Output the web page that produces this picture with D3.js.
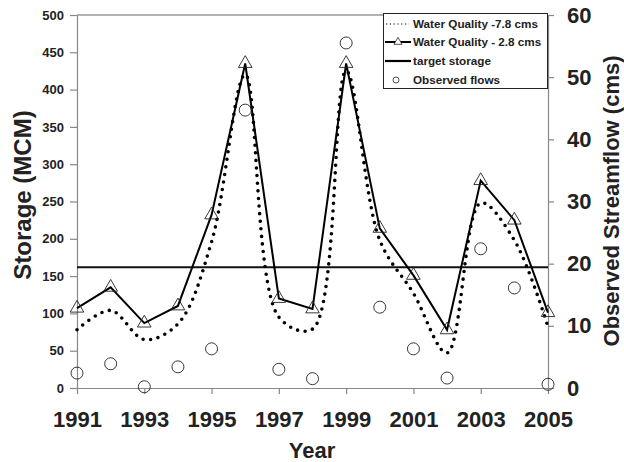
<!DOCTYPE html>
<html>
<head>
<meta charset="utf-8">
<script src="https://cdn.jsdelivr.net/npm/d3@7"></script>
<style>
  body { margin: 0; background: #fff; }
  text { font-family: "Liberation Sans", Arial, sans-serif; font-weight: bold; fill: #222; }
</style>
</head>
<body>
<div id="chart"></div>
<script>
// values
var years = [1991, 1992, 1993, 1994, 1995, 1996, 1997, 1998, 1999, 2000, 2001, 2002, 2003, 2004, 2005];
var wq78 = [78, 104, 65, 86, 196, 420, 95, 79, 425, 198, 127, 47, 248, 198, 82];
var wq28 = [107, 135, 87, 110, 232, 435, 120, 106, 435, 214, 151, 78, 278, 225, 101];
var target = [162, 162];
var observed = [2.4, 3.9, 0.2, 3.4, 6.3, 44.7, 3.0, 1.5, 55.5, 13.0, 6.3, 1.6, 22.4, 16.1, 0.6];
var yearTicks = [1991, 1993, 1995, 1997, 1999, 2001, 2003, 2005];
var storageTicks = [0, 50, 100, 150, 200, 250, 300, 350, 400, 450, 500];
var flowTicks = [0, 10, 20, 30, 40, 50, 60];
var legendLabels = ["Water Quality -7.8 cms", "Water Quality - 2.8 cms", "target storage", "Observed flows"];

var W = 624, H = 462;
var plot = {left: 77, right: 548, top: 15, bottom: 388};

var svg = d3.select("#chart").append("svg")
    .attr("width", W)
    .attr("height", H);

var x = d3.scaleLinear().domain([1991, 2005]).range([plot.left, plot.right]);
var y = d3.scaleLinear().domain([0, 500]).range([plot.bottom, plot.top]);
var y2 = d3.scaleLinear().domain([0, 60]).range([plot.bottom, plot.top]);

// frame top
svg.append("line")
    .attr("x1", plot.left).attr("x2", plot.right)
    .attr("y1", plot.top).attr("y2", plot.top)
    .attr("stroke", "#999").attr("stroke-width", 1.5);

// axes
var gx = svg.append("g")
    .attr("transform", "translate(0," + plot.bottom + ")")
    .call(d3.axisBottom(x).tickValues(yearTicks).tickFormat(d3.format("d")).tickSize(6).tickSizeOuter(0).tickPadding(17));
gx.selectAll("text").style("font-size", "22px");

var gy = svg.append("g")
    .attr("transform", "translate(" + plot.left + ",0)")
    .call(d3.axisLeft(y).tickValues(storageTicks).tickSize(7).tickSizeOuter(0).tickPadding(6));
gy.selectAll("text").style("font-size", "13px");

var gy2 = svg.append("g")
    .attr("transform", "translate(" + plot.right + ",0)")
    .call(d3.axisRight(y2).tickValues(flowTicks).tickSize(6).tickSizeOuter(0).tickPadding(13));
gy2.selectAll("text").style("font-size", "22px");

svg.selectAll(".domain, .tick line").attr("stroke", "#888").attr("stroke-width", 1.2);

// titles
svg.append("text")
    .attr("transform", "translate(31,195) rotate(-90)")
    .attr("text-anchor", "middle")
    .style("font-size", "24px")
    .text("Storage (MCM)");

svg.append("text")
    .attr("transform", "translate(619,201) rotate(-90)")
    .attr("text-anchor", "middle")
    .style("font-size", "22px")
    .text("Observed Streamflow (cms)");

svg.append("text")
    .attr("x", 312).attr("y", 458)
    .attr("text-anchor", "middle")
    .style("font-size", "22px")
    .text("Year");

// target storage
svg.append("line")
    .attr("x1", plot.left).attr("x2", plot.right)
    .attr("y1", y(target[0])).attr("y2", y(target[1]))
    .attr("stroke", "#111").attr("stroke-width", 2);

// water quality 7.8 (smoothed dotted)
var smooth = d3.line()
    .x(function(d, i) { return x(years[i]); })
    .y(function(d) { return y(d); })
    .curve(d3.curveCatmullRom);

svg.append("path")
    .datum(wq78)
    .attr("d", smooth)
    .attr("fill", "none")
    .attr("stroke", "#000")
    .attr("stroke-width", 3.6)
    .attr("stroke-linecap", "round")
    .attr("stroke-dasharray", "0 7.6");

// water quality 2.8
var straight = d3.line()
    .x(function(d, i) { return x(years[i]); })
    .y(function(d) { return y(d); });

svg.append("path")
    .datum(wq28)
    .attr("d", straight)
    .attr("fill", "none")
    .attr("stroke", "#000")
    .attr("stroke-width", 2);

var tri = d3.symbol().type(d3.symbolTriangle).size(80);
svg.selectAll(".tri")
    .data(wq28)
    .enter().append("path")
    .attr("class", "tri")
    .attr("d", tri)
    .attr("transform", function(d, i) { return "translate(" + x(years[i]) + "," + y(d) + ")"; })
    .attr("fill", "none")
    .attr("stroke", "#222")
    .attr("stroke-width", 0.9);

// observed flows
svg.selectAll(".obs")
    .data(observed)
    .enter().append("circle")
    .attr("class", "obs")
    .attr("cx", function(d, i) { return x(years[i]); })
    .attr("cy", function(d) { return y2(d); })
    .attr("r", 6)
    .attr("fill", "none")
    .attr("stroke", "#222")
    .attr("stroke-width", 0.9);

// legend
var lg = svg.append("g");
lg.append("rect")
    .attr("x", 383.5).attr("y", 13.5)
    .attr("width", 164).attr("height", 75)
    .attr("fill", "#fff")
    .attr("stroke", "#222");

var rowY = [24, 42, 61, 80];
lg.selectAll(".lt")
    .data(legendLabels)
    .enter().append("text")
    .attr("x", 413)
    .attr("y", function(d, i) { return rowY[i] + 4; })
    .style("font-size", "11.7px")
    .text(function(d) { return d; });

lg.append("line")
    .attr("x1", 386).attr("x2", 409)
    .attr("y1", rowY[0]).attr("y2", rowY[0])
    .attr("stroke", "#000").attr("stroke-width", 1.2)
    .attr("stroke-dasharray", "1.2 2.6");
lg.append("line")
    .attr("x1", 385).attr("x2", 411)
    .attr("y1", rowY[1]).attr("y2", rowY[1])
    .attr("stroke", "#000").attr("stroke-width", 2);
lg.append("path")
    .attr("d", d3.symbol().type(d3.symbolTriangle).size(28))
    .attr("transform", "translate(398," + rowY[1] + ")")
    .attr("fill", "#fff").attr("stroke", "#222").attr("stroke-width", 0.8);
lg.append("line")
    .attr("x1", 385).attr("x2", 411)
    .attr("y1", rowY[2]).attr("y2", rowY[2])
    .attr("stroke", "#000").attr("stroke-width", 2.2);
lg.append("circle")
    .attr("cx", 396).attr("cy", rowY[3]).attr("r", 3)
    .attr("fill", "none").attr("stroke", "#222").attr("stroke-width", 0.8);
</script>
</body>
</html>
